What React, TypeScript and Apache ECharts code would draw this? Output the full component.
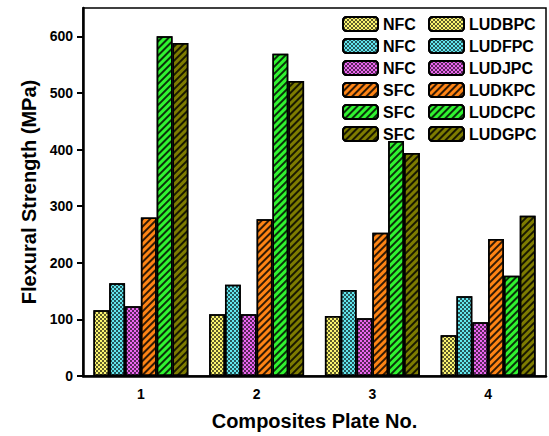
import React, { useEffect, useRef } from "react";
import * as echarts from "echarts";

const categories = ["1", "2", "3", "4"];
const seriesNames = ["LUDBPC", "LUDFPC", "LUDJPC", "LUDKPC", "LUDCPC", "LUDGPC"];
const groupLabels = ["NFC", "NFC", "NFC", "SFC", "SFC", "SFC"];
const LUDBPC = [116, 109, 106, 72];
const LUDFPC = [164, 161, 152, 141];
const LUDJPC = [123, 109, 102, 95];
const LUDKPC = [280, 277, 253, 242];
const LUDCPC = [600, 569, 415, 177];
const LUDGPC = [588, 521, 394, 283];
const seriesValues = [LUDBPC, LUDFPC, LUDJPC, LUDKPC, LUDCPC, LUDGPC];
const yTicks = [0, 100, 200, 300, 400, 500, 600];

const colors = ["#fbf570", "#62e6ee", "#ec66f0", "#ff8414", "#30f430", "#7e7c00"];
const FONT = "Liberation Sans";

const checker = () => ({
  symbol: "rect",
  symbolSize: 1,
  dashArrayX: [[2, 2], [0, 2, 2, 0]],
  dashArrayY: [2, 0],
  rotation: 0,
  color: "rgba(0,0,0,0.62)",
});
const stripes = () => ({
  symbol: "rect",
  symbolSize: 1,
  dashArrayX: [1, 0],
  dashArrayY: [1.3, 2.5],
  rotation: -Math.PI / 4,
  color: "rgba(0,0,0,0.8)",
});

export default function App() {
  const ref = useRef<HTMLDivElement>(null);
  useEffect(() => {
    if (!ref.current) return;
    document.body.style.margin = "0";
    const chart = echarts.init(ref.current, null, { renderer: "svg" });
    const legendBase = {
      orient: "vertical",
      top: 11,
      itemWidth: 35,
      itemHeight: 14,
      itemGap: 6,
      selectedMode: false,
      textStyle: { fontFamily: FONT, fontWeight: "bold", fontSize: 16, color: "#000" },
      data: seriesNames,
    };
    chart.setOption({
      animation: false,
      backgroundColor: "#fff",
      grid: {
        left: 83,
        right: 3,
        top: 8,
        bottom: 57,
        show: true,
        borderColor: "#000",
        borderWidth: 1.5,
      },
      legend: [
        {
          ...legendBase,
          left: 337,
          formatter: (name: string) => groupLabels[seriesNames.indexOf(name)],
        },
        { ...legendBase, left: 423 },
      ],
      xAxis: {
        type: "category",
        data: categories,
        name: "Composites Plate No.",
        nameLocation: "middle",
        nameGap: 35,
        nameTextStyle: { fontFamily: FONT, fontWeight: "bold", fontSize: 20, color: "#000" },
        axisLine: { lineStyle: { color: "#000", width: 2.5 } },
        axisTick: { alignWithLabel: true, length: 6, lineStyle: { color: "#000", width: 2 } },
        axisLabel: { fontFamily: FONT, fontWeight: "bold", fontSize: 14, color: "#000", margin: 11 },
      },
      yAxis: {
        type: "value",
        min: 0,
        max: 650,
        interval: 100,
        name: "Flexural Strength (MPa)",
        nameLocation: "middle",
        nameGap: 40,
        nameTextStyle: { fontFamily: FONT, fontWeight: "bold", fontSize: 20, color: "#000" },
        splitLine: { show: false },
        axisLine: { show: true, lineStyle: { color: "#000", width: 2.5 } },
        axisTick: { show: true, length: 6, lineStyle: { color: "#000", width: 2 }, customValues: yTicks },
        axisLabel: { fontFamily: FONT, fontWeight: "bold", fontSize: 14, color: "#000", margin: 10, customValues: yTicks },
      },
      series: seriesNames.map((name, i) => ({
        name,
        type: "bar",
        data: seriesValues[i],
        barGap: "0%",
        barCategoryGap: "18%",
        itemStyle: {
          color: colors[i],
          borderColor: "#000",
          borderWidth: 1.5,
          decal: i < 3 ? checker() : stripes(),
        },
      })),
    });
    return () => chart.dispose();
  }, []);
  return <div ref={ref} style={{ width: 549, height: 436 }} />;
}
